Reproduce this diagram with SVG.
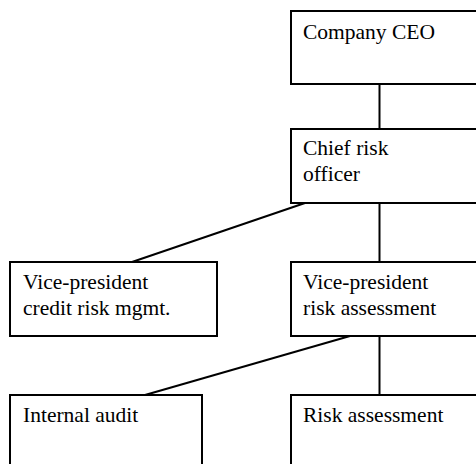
<svg xmlns="http://www.w3.org/2000/svg" width="476" height="464" viewBox="0 0 476 464">
<style>
.box{fill:#fff;stroke:#000;stroke-width:2}
.lbl{font-family:"Liberation Serif","Times New Roman",serif;font-size:21.5px;fill:#000}
.con{stroke:#000;stroke-width:2;fill:none}
</style>
<rect width="476" height="464" fill="#fff"/>
<g id="connectors">
<line class="con" x1="379.5" y1="84" x2="379.5" y2="129"/>
<line class="con" x1="379.5" y1="203" x2="379.5" y2="262"/>
<line class="con" x1="305" y1="203" x2="132" y2="262"/>
<line class="con" x1="379.5" y1="336" x2="379.5" y2="395"/>
<line class="con" x1="350" y1="336" x2="145" y2="395"/>
</g>
<g id="ceo">
<rect class="box" x="291" y="11" width="200" height="73"/>
<text class="lbl" x="303" y="39">Company CEO</text>
</g>
<g id="cro">
<rect class="box" x="291" y="129" width="200" height="74"/>
<text class="lbl" x="303" y="155">Chief risk</text>
<text class="lbl" x="303" y="181">officer</text>
</g>
<g id="vp-credit">
<rect class="box" x="10" y="262" width="207" height="74"/>
<text class="lbl" x="23" y="289">Vice-president</text>
<text class="lbl" x="23" y="315">credit risk mgmt.</text>
</g>
<g id="vp-assess">
<rect class="box" x="291" y="262" width="200" height="74"/>
<text class="lbl" x="303" y="289">Vice-president</text>
<text class="lbl" x="303" y="315">risk assessment</text>
</g>
<g id="audit">
<rect class="box" x="10" y="395" width="192" height="80"/>
<text class="lbl" x="23" y="422">Internal audit</text>
</g>
<g id="risk-assess">
<rect class="box" x="291" y="395" width="200" height="80"/>
<text class="lbl" x="303" y="422">Risk assessment</text>
</g>
</svg>
